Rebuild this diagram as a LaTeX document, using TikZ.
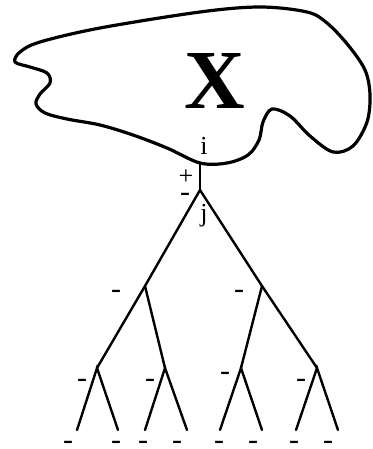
\documentclass[tikz,border=0pt]{standalone}
\usepackage{fontspec}
\setmainfont{Liberation Serif}
\usepackage{tikz}

\begin{document}
\begin{tikzpicture}[
  x=1pt,y=-1pt,
  blob/.style={line width=3.2pt,line join=round},
  branch/.style={line width=2.4pt,line cap=round},
  lbl/.style={font=\fontsize{26}{26}\selectfont,inner sep=0pt,anchor=base},
  sgn/.style={font=\fontsize{30}{30}\selectfont,inner sep=0pt,anchor=base}
]
\useasboundingbox (0,0) rectangle (372,449);
% the region X
\draw[blob] plot[smooth cycle,tension=0.55] coordinates {
  (15,62) (30,67) (47,73) (50,83) (40,94) (36,104) (45,113) (67,119)
  (100,125) (133,135) (167,148) (200,163) (227,163) (248,155) (259,140)
  (263,122) (272,109) (290,116) (310,136) (333,152) (353,146) (367,122)
  (370,95) (365,70) (348,45) (327,23) (307,12) (260,7) (200,12) (100,28)
  (40,42) (20,52)};
\node[font=\fontsize{84}{84}\selectfont\bfseries,inner sep=0pt,anchor=base] (X) at (215,109) {X};
% tree below the vertex
\coordinate (top) at (200,163);
\coordinate (root) at (200,190);
\coordinate (l) at (145,286);
\coordinate (r) at (262,286);
\coordinate (ll) at (97,368);
\coordinate (lr) at (165,368);
\coordinate (rl) at (241,368);
\coordinate (rr) at (317,368);
\foreach \n/\x in {ll1/77,ll2/118,lr1/145,lr2/187,rl1/220,rl2/262,rr1/296,rr2/338}
  \coordinate (\n) at (\x,430);
\draw[branch] (top) -- (root);
\draw[branch] (root) -- (l) -- (ll);
\draw[branch] (root) -- (r) -- (rr);
\draw[branch] (l) -- (lr);
\draw[branch] (r) -- (rl);
\foreach \p in {ll,lr,rl,rr}
  \draw[branch] (\p1) -- (\p) -- (\p2);
% labels at the vertex
\node[lbl] (i) at (204,155) {i};
\node[lbl] (plus) at (186,184) {+};
\node[sgn] (minus) at (185,201) {-};
\node[lbl] (j) at (204,221) {j};
% signs on the tree
\foreach \n/\x/\y in {sl/116/292,sr/239/292,sll/82/381,slr/150/381,srl/225/374,srr/301/381,
  s1/68/443,s2/116/443,s3/143/443,s4/177/443,s5/219/443,s6/253/443,s7/294/443,s8/328/443}
  \node[sgn] (\n) at (\x,\y+6) {-};
\end{tikzpicture}
\end{document}
